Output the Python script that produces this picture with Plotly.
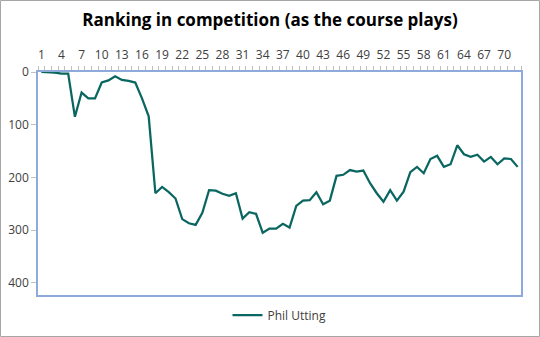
import plotly.graph_objects as go

# Hole number (1..72) and the player's position in the field after each hole
holes = list(range(1, 73))
ranking = [
    0, 0, 1, 3, 3, 85, 39, 50, 50, 20,
    16, 8, 15, 17, 20, 50, 84, 230, 218, 228,
    240, 279, 287, 290, 267, 224, 225, 231, 235, 230,
    278, 266, 269, 305, 297, 297, 288, 295, 254, 244,
    243, 228, 251, 244, 197, 195, 186, 189, 187, 211,
    230, 246, 224, 244, 227, 190, 180, 192, 165, 159,
    180, 175, 139, 156, 161, 157, 170, 161, 175, 164,
    165, 180,
]
player = "Phil Utting"
x_labels = list(range(1, 71, 3))
y_labels = [0, 100, 200, 300, 400]

line_color = "#0a6660"
frame_blue = "#8eaadb"
tick_grey = "#bfbfbf"
text_color = "#404040"
font_family = "Open Sans, Segoe UI, sans-serif"

fig = go.Figure(
    go.Scatter(
        x=holes,
        y=ranking,
        mode="lines",
        name=player,
        line=dict(color=line_color, width=2.25),
    )
)

plot_w = 540 - 38 - 19
plot_h = 337 - 72 - 42

fig.update_layout(
    width=540,
    height=337,
    paper_bgcolor="white",
    plot_bgcolor="white",
    margin=dict(l=38, r=19, t=72, b=42, autoexpand=False),
    font=dict(family=font_family, size=12, color=text_color),
    title=dict(
        text="<b>Ranking in competition (as the course plays)</b>",
        x=0.5,
        xanchor="center",
        y=0.94,
        yanchor="middle",
        font=dict(family=font_family, size=17, color="#000000"),
    ),
    showlegend=True,
    legend=dict(
        orientation="h",
        x=0.5,
        xanchor="center",
        y=-20 / plot_h,
        yanchor="middle",
        itemwidth=30,
        font=dict(size=12, color=text_color),
    ),
    shapes=[
        dict(
            type="rect",
            xref="paper",
            yref="paper",
            x0=-37.5 / plot_w,
            x1=1 + 18.5 / plot_w,
            y0=-41.5 / plot_h,
            y1=1 + 71.5 / plot_h,
            line=dict(color="#a6a6a6", width=1),
            layer="below",
        )
    ],
)

fig.update_xaxes(
    side="top",
    range=[0.5, 72.5],
    tickmode="array",
    tickvals=x_labels,
    ticktext=[str(v) for v in x_labels],
    ticks="",
    ticklabelstandoff=6,
    showgrid=False,
    zeroline=False,
    showline=True,
    mirror=True,
    linecolor=frame_blue,
    linewidth=1.5,
    tickfont=dict(size=12, color=text_color),
    minor=dict(
        tickmode="linear",
        tick0=0.5,
        dtick=1,
        ticks="outside",
        ticklen=4,
        tickcolor=tick_grey,
        tickwidth=1,
        showgrid=False,
    ),
)

fig.update_yaxes(
    range=[423, 0],
    tickmode="array",
    tickvals=y_labels,
    ticks="outside",
    ticklen=5,
    tickcolor=tick_grey,
    showgrid=False,
    zeroline=False,
    showline=True,
    mirror=True,
    linecolor=frame_blue,
    linewidth=1.5,
    tickfont=dict(size=12, color=text_color),
)

fig.write_html("out.html")
